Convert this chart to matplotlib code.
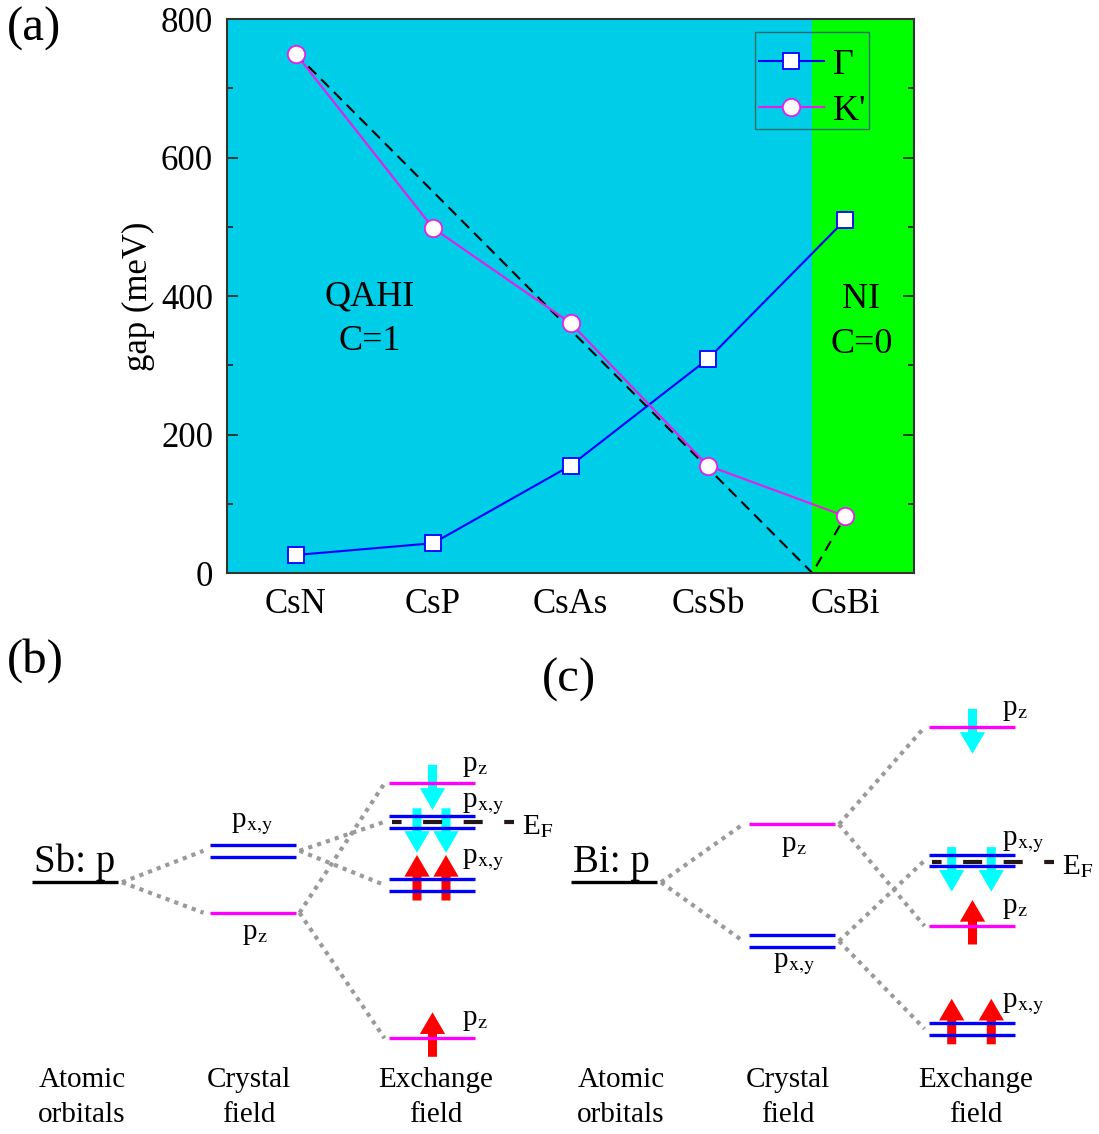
import matplotlib.pyplot as plt
from matplotlib.patches import Rectangle
from matplotlib.ticker import MultipleLocator

plt.rcParams['font.family'] = ['Liberation Serif', 'DejaVu Serif']
plt.rcParams['mathtext.fontset'] = 'stix'
plt.rcParams['lines.scale_dashes'] = False

# (a) band gaps at Gamma and K'
compounds = ['CsN', 'CsP', 'CsAs', 'CsSb', 'CsBi']
gap_gamma = [26, 43, 155, 309, 510]
gap_kprime = [750, 498, 361, 155, 82]
# linear trend of the K' gap closing at the QAHI/NI boundary
trend_x = [0, 3.76, 4]
trend_y = [750, 0, 82]
boundary = 3.76

# (b) Sb p levels, energies in arbitrary units (atomic level = 0)
sb_crystal = {'pxy': 3.15, 'pz': -3.05}
sb_exchange = {'pz_dn': 9.9, 'pxy_dn': 6.05, 'pxy_up': -0.27, 'pz_up': -15.6}
sb_fermi = 6.05

# (c) Bi p levels
bi_crystal = {'pz': 5.8, 'pxy': -5.88}
bi_exchange = {'pz_dn': 15.5, 'pxy_dn': 2.17, 'pz_up': -4.37, 'pxy_up': -14.65}
bi_fermi = 2.05

BLUE = '#0000ff'
MAGENTA = '#ff00ff'
CYAN = '#00ffff'
RED = '#ff0000'
GRAY = '#9a9a9a'

W, H = 1099, 1134
fig = plt.figure(figsize=(W / 100, H / 100), dpi=100)

# ---------------- panel (a) ----------------
ax = fig.add_axes([227 / W, 1 - 573 / H, 687 / W, 554 / H])
x = list(range(len(compounds)))
ax.set_facecolor('#00cde8')
ax.axvspan(boundary, 4.5, color='#00ff00', lw=0, zorder=0)

ax.plot(trend_x, trend_y, color='black', lw=1.5, dashes=(8, 5), zorder=2)
ax.plot(x, gap_gamma, color=BLUE, lw=1.5, marker='s', ms=11, mfc='white',
        mec=BLUE, mew=1.3, label='Γ', zorder=3)
ax.plot(x, gap_kprime, color='#e81ee8', lw=1.5, marker='o', ms=12.5, mfc='white',
        mec='#e81ee8', mew=1.3, label="K'", zorder=3)

ax.set_xlim(-0.5, 4.5)
ax.set_ylim(0, 800)
ax.set_xticks(x)
ax.set_xticklabels(compounds)
ax.yaxis.set_major_locator(MultipleLocator(200))
ax.yaxis.set_minor_locator(MultipleLocator(100))
ax.tick_params(axis='y', which='both', direction='in', left=True, right=True,
               labelsize=25, pad=10, width=1.2, color='#222222')
ax.tick_params(axis='y', which='major', length=8)
ax.tick_params(axis='y', which='minor', length=4)
ax.tick_params(axis='x', length=0, labelsize=25, pad=11)
for s in ax.spines.values():
    s.set_color('#333333')
    s.set_linewidth(1.5)
ax.set_ylabel('gap (meV)', fontsize=25, labelpad=4)

ax.text(0.538, 387, 'QAHI', fontsize=26, ha='center', va='baseline')
ax.text(0.538, 322, 'C=1', fontsize=26, ha='center', va='baseline')
ax.text(4.116, 383, 'NI', fontsize=26, ha='center', va='baseline')
ax.text(4.116, 318, 'C=0', fontsize=26, ha='center', va='baseline')

# legend entries without frame, the box is drawn separately (tight sides, tall rows)
ax.legend(loc='center', bbox_to_anchor=(0.8515, 0.875), fontsize=26, frameon=False,
          handlelength=1.8, handletextpad=0.25, borderpad=0, labelspacing=0.36)
ax.add_patch(Rectangle((0.7686, 0.8009), 0.9345 - 0.7686, 0.9771 - 0.8009,
                       transform=ax.transAxes, fill=False, ec='#2a6e6e', lw=1.0,
                       zorder=5))

# ---------------- panels (b), (c): level schemes ----------------
E0 = 882.3  # pixel row of the atomic level
d = fig.add_axes([0, 0, 1, 1])
d.set_xlim(0, W)
d.set_ylim((E0 - H) / 10, E0 / 10)
d.axis('off')

HW = 43
LABEL_RAISE = {'pz_dn': 1.2, 'pxy_dn': 1.5, 'pxy_up': 2.15, 'pz_up': 1.3}


def lab(kind):
    return r'p$_{\rm x{,}y}$' if kind.startswith('pxy') else r'p$_{\rm z}$'


def level(xc, e, kind):
    if kind.startswith('pxy'):
        for de in (-0.58, 0.58):
            d.plot([xc - HW, xc + HW], [e + de, e + de], color=BLUE, lw=2.4,
                   solid_capstyle='butt', zorder=3)
    else:
        d.plot([xc - HW, xc + HW], [e, e], color=MAGENTA, lw=2.4,
               solid_capstyle='butt', zorder=3)


def dotted(x0, e0, x1, e1):
    d.plot([x0, x1], [e0, e1], color=GRAY, lw=3, dashes=(3, 3.7),
           dash_capstyle='butt', zorder=1)


def spin(xc, e, kind):
    # arrow tail/tip relative to the level
    if kind == 'pz_dn':
        tail, tip, col = e + 1.85, e - 2.65, CYAN
    elif kind == 'pxy_dn':
        tail, tip, col = e + 1.35, e - 3.1, CYAN
    elif kind == 'pz_up':
        tail, tip, col = e - 1.85, e + 2.6, RED
    else:
        tail, tip, col = e - 1.55, e + 3.0, RED
    d.annotate('', xy=(xc, tip), xytext=(xc, tail), zorder=2,
               arrowprops=dict(arrowstyle='simple,head_length=1.2,head_width=1.4,'
                                          'tail_width=0.5',
                               mutation_scale=13, color=col, lw=0,
                               shrinkA=0, shrinkB=0))


def draw_scheme(cols, atom, crystal, crystal_side, exchange, fermi, pair_dx):
    xa, xc, xe = cols
    # atomic orbital
    d.plot([xa - HW, xa + HW], [0, 0], color='black', lw=2.4,
           solid_capstyle='butt', zorder=3)
    d.text(xa - HW + 2, 1.06, atom, fontsize=28, ha='left', va='baseline')

    # crystal field
    for kind, e in crystal.items():
        level(xc, e, kind)
        dotted(xa + HW + 4, 0, xc - HW - 6, e)
        if crystal_side[kind] == 'above':
            d.text(xc, e + 2.35, lab(kind), fontsize=21, ha='center', va='baseline')
        else:
            d.text(xc + 2, e - 2.65, lab(kind), fontsize=21, ha='center', va='baseline')

    # exchange field
    for kind, e in exchange.items():
        level(xe, e, kind)
        parent = 'pxy' if kind.startswith('pxy') else 'pz'
        dotted(xc + HW + 4, crystal[parent], xe - HW - 4, e)
        if parent == 'pxy':
            spin(xe - pair_dx, e, kind)
            spin(xe + pair_dx, e, kind)
        else:
            spin(xe + 1, e, kind)
        d.text(xe + HW - 12, e + LABEL_RAISE[kind], lab(kind), fontsize=21,
               ha='left', va='baseline')

    # Fermi level
    d.plot([xe - HW + 3, xe + HW + 39], [fermi, fermi], color='#231815', lw=3,
           linestyle=(6.8, (13.7, 15.5)), dash_capstyle='butt', zorder=4)
    d.text(xe + HW + 48, fermi - 1.2, r'E$_{\rm F}$', fontsize=21, ha='left',
           va='baseline')

    # column captions
    captions = [('Atomic', 'orbitals'), ('Crystal', 'field'), ('Exchange', 'field')]
    for xcol, off, (l1, l2) in zip(cols, (7, -4, 4), captions):
        d.text(xcol + off, -20.45, l1, fontsize=21, ha='center', va='baseline')
        d.text(xcol + off, -23.95, l2, fontsize=21, ha='center', va='baseline')


draw_scheme((75, 252.5, 431.5), 'Sb: p', sb_crystal, {'pxy': 'above', 'pz': 'below'},
            sb_exchange, sb_fermi, 14.5)
draw_scheme((614, 792, 971.5), 'Bi: p', bi_crystal, {'pxy': 'below', 'pz': 'below'},
            bi_exchange, bi_fermi, 19.8)

# panel labels
fig.text(7 / W, 1 - 7 / H, '(a)', fontsize=35, ha='left', va='top')
fig.text(7 / W, 1 - 638 / H, '(b)', fontsize=35, ha='left', va='top')
fig.text(542 / W, 1 - 658 / H, '(c)', fontsize=35, ha='left', va='top')

fig.savefig('out.png', dpi=100)
